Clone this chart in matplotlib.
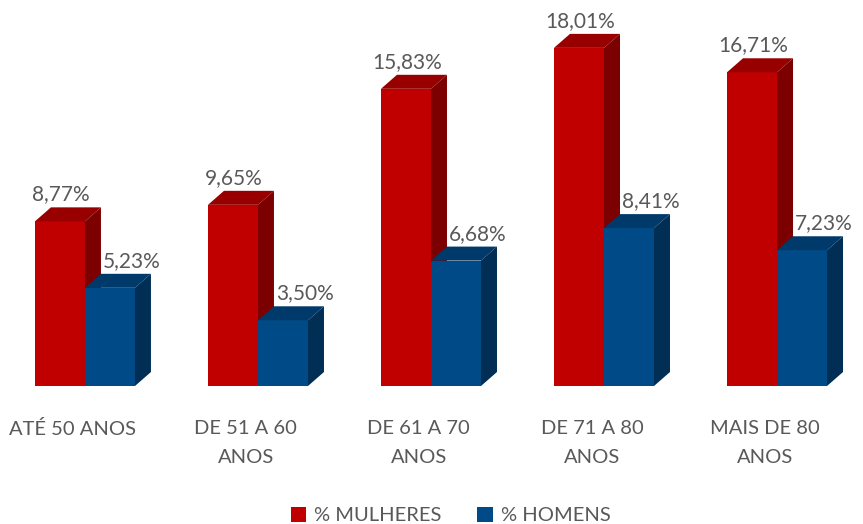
import matplotlib
matplotlib.use('Agg')
import matplotlib.pyplot as plt
from matplotlib.patches import Polygon, Rectangle

# data
categories = ['ATÉ 50 ANOS', 'DE 51 A 60\nANOS', 'DE 61 A 70\nANOS',
              'DE 71 A 80\nANOS', 'MAIS DE 80\nANOS']
mulheres = [8.77, 9.65, 15.83, 18.01, 16.71]
homens = [5.23, 3.50, 6.68, 8.41, 7.23]
series_names = ['% MULHERES', '% HOMENS']

plt.rcParams['font.family'] = ['Lato', 'DejaVu Sans']
text_color = '#595959'

# front, top, side colours for the fake 3D look
red = ('#C00000', '#980000', '#7C0000')
blue = ('#004B87', '#003A6A', '#002E55')

fig = plt.figure(figsize=(8.63, 5.24), dpi=100)
ax = fig.add_axes([0, 0, 1, 1])
ax.set_xlim(-0.491, 4.497)
ax.set_ylim(-7.35, 20.56)
ax.axis('off')

width = 0.289
dx, dy = 0.0925, 0.746


def bar3d(x0, h, cols, lab_shift):
    front, top, side = cols
    ax.add_patch(Rectangle((x0, 0), width, h, facecolor=front, edgecolor='none'))
    ax.add_patch(Polygon([(x0, h), (x0 + dx, h + dy), (x0 + width + dx, h + dy),
                          (x0 + width, h)], closed=True, facecolor=top, edgecolor='none'))
    ax.add_patch(Polygon([(x0 + width, 0), (x0 + width + dx, dy), (x0 + width + dx, h + dy),
                          (x0 + width, h)], closed=True, facecolor=side, edgecolor='none'))
    ax.text(x0 + (width + dx) / 2 + lab_shift, h + dy + 0.15, f'{h:.2f}%'.replace('.', ','),
            ha='center', va='bottom', fontsize=15, color=text_color, zorder=5)


for i, cat in enumerate(categories):
    bar3d(i - width, mulheres[i], red, -0.04)
    bar3d(i, homens[i], blue, 0.08)
    ax.text(i - 0.07, -1.8, cat, ha='center', va='top', fontsize=14.5,
            color=text_color, linespacing=1.85)

# legend
handles = [Rectangle((0, 0), 1, 1, facecolor=c[0]) for c in (red, blue)]
fig.legend(handles, series_names, loc='lower center', bbox_to_anchor=(0.522, -0.035),
           ncol=2, frameon=False, fontsize=14.5, labelcolor=text_color,
           handlelength=0.75, handleheight=0.75, handletextpad=0.4, columnspacing=1.8)

plt.savefig('out.png', dpi=100)
